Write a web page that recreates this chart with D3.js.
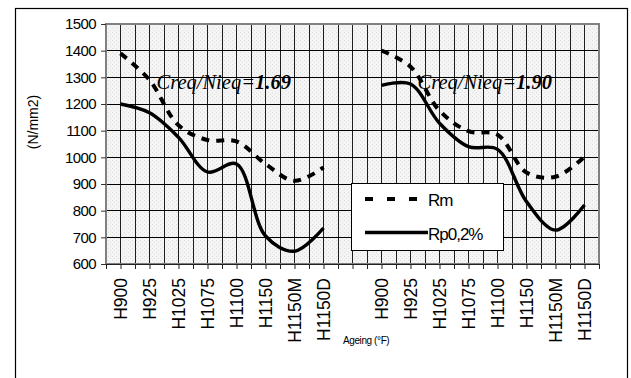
<!DOCTYPE html>
<html>
<head>
<meta charset="utf-8">
<script src="https://cdn.jsdelivr.net/npm/d3@7/dist/d3.min.js"></script>
<style>
  body { margin: 0; background: #fff; }
  text { font-family: "Liberation Sans", Arial, sans-serif; fill: #000; }
</style>
</head>
<body>
<svg id="chart" width="631" height="378"></svg>
<script>
// Ageing treatments, shown once for each Creq/Nieq ratio
const categories = ["H900", "H925", "H1025", "H1075", "H1100", "H1150", "H1150M", "H1150D"];
const ratios = ["1.69", "1.90"];

// Tensile strength Rm and yield strength Rp0,2% (N/mm2)
const rmLow  = [1390, 1290, 1120, 1065, 1060, 975, 912, 962];
const rpLow  = [1200, 1167, 1075, 945, 975, 705, 648, 735];
const rmHigh = [1400, 1340, 1175, 1098, 1085, 943, 927, 1002];
const rpHigh = [1270, 1275, 1128, 1040, 1030, 834, 727, 821];

const yTicks = [600, 700, 800, 900, 1000, 1100, 1200, 1300, 1400, 1500];
const seriesNames = ["Rm", "Rp0,2%"];

const svg = d3.select("#chart");
const plot = { left: 106, right: 599, top: 24, bottom: 264 };

// The category axis has 34 slots; each group takes every other slot with one empty gap between groups
const slotCount = 34;
const slotOf = (group, i) => 1 + group * (categories.length * 2 + 2) + i * 2;

const x = d3.scaleLinear().domain([0, slotCount]).range([plot.left, plot.right]);
const y = d3.scaleLinear().domain([600, 1500]).range([plot.bottom, plot.top]);

// Outer frame
svg.append("rect")
  .attr("x", 15.5).attr("y", 8.5).attr("width", 612).attr("height", 400)
  .attr("fill", "none").attr("stroke", "#000").attr("stroke-width", 1.2);

// Stippled plot background
const defs = svg.append("defs");
const pat = defs.append("pattern").attr("id", "stipple")
  .attr("width", 4).attr("height", 4).attr("patternUnits", "userSpaceOnUse");
pat.append("rect").attr("width", 4).attr("height", 4).attr("fill", "#f4f4f4");
pat.append("rect").attr("x", 0).attr("y", 0).attr("width", 1).attr("height", 1).attr("fill", "#dedede");
pat.append("rect").attr("x", 2).attr("y", 2).attr("width", 1).attr("height", 1).attr("fill", "#e4e4e4");

svg.append("rect")
  .attr("x", plot.left).attr("y", plot.top)
  .attr("width", plot.right - plot.left).attr("height", plot.bottom - plot.top)
  .attr("fill", "url(#stipple)");

// Grid
const grid = svg.append("g").attr("shape-rendering", "crispEdges");
grid.selectAll("line.v").data(d3.range(1, slotCount)).join("line")
  .attr("class", "v")
  .attr("x1", d => x(d)).attr("x2", d => x(d))
  .attr("y1", plot.top).attr("y2", plot.bottom)
  .attr("stroke", "#1e1e1e").attr("stroke-width", 1);
grid.selectAll("line.h").data(yTicks.slice(1, -1)).join("line")
  .attr("class", "h")
  .attr("x1", plot.left).attr("x2", plot.right)
  .attr("y1", d => y(d)).attr("y2", d => y(d))
  .attr("stroke", "#000").attr("stroke-width", 1);

// Plot area border
svg.append("rect")
  .attr("x", plot.left).attr("y", plot.top)
  .attr("width", plot.right - plot.left).attr("height", plot.bottom - plot.top)
  .attr("fill", "none").attr("stroke", "#808080").attr("stroke-width", 1.2)
  .attr("shape-rendering", "crispEdges");

// Y axis
const yAxis = svg.append("g")
  .attr("transform", `translate(${plot.left},0)`)
  .call(d3.axisLeft(y).tickValues(yTicks).tickSize(5).tickPadding(5).tickFormat(d3.format("d")));
yAxis.select(".domain").attr("stroke", "#808080");
yAxis.selectAll(".tick line").attr("stroke", "#333");
yAxis.selectAll(".tick text")
  .style("font-family", "'Liberation Sans', Arial, sans-serif")
  .style("font-size", "15px").style("letter-spacing", "-0.6px").attr("fill", "#000");

// X axis: a tick on every slot, labels on the category slots
const labelBySlot = new Map();
ratios.forEach((r, g) => categories.forEach((c, i) => labelBySlot.set(slotOf(g, i), c)));

const xAxis = svg.append("g")
  .attr("transform", `translate(0,${plot.bottom})`)
  .call(d3.axisBottom(x).tickValues(d3.range(0, slotCount + 1)).tickSize(5)
    .tickFormat(d => labelBySlot.get(d) || ""));
xAxis.select(".domain").attr("stroke", "#222");
xAxis.selectAll(".tick line").attr("stroke", "#222");
xAxis.selectAll(".tick text")
  .style("font-family", "'Liberation Sans', Arial, sans-serif")
  .style("font-size", "17.5px")
  .attr("text-anchor", "end")
  .attr("transform", "rotate(-90)")
  .attr("x", -14).attr("y", 0).attr("dy", "0.36em")
  .attr("fill", "#000");

// Axis titles
svg.append("text")
  .attr("transform", "translate(38,122) rotate(-90)")
  .attr("text-anchor", "middle")
  .style("font-size", "14px")
  .text("(N/mm2)");

svg.append("text")
  .attr("x", 343).attr("y", 344)
  .style("font-size", "10px").style("letter-spacing", "-0.4px")
  .text("Ageing (°F)");

// Curves
const line = d3.line()
  .x(d => x(d.slot))
  .y(d => y(d.v))
  .curve(d3.curveCatmullRom.alpha(0.5));

const groupsData = [
  { rm: rmLow, rp: rpLow },
  { rm: rmHigh, rp: rpHigh }
];

groupsData.forEach((gd, g) => {
  const rmPts = gd.rm.map((v, i) => ({ slot: slotOf(g, i), v }));
  const rpPts = gd.rp.map((v, i) => ({ slot: slotOf(g, i), v }));
  svg.append("path").datum(rpPts)
    .attr("d", line).attr("fill", "none")
    .attr("stroke", "#000").attr("stroke-width", 3.4)
    .attr("stroke-linejoin", "round");
  svg.append("path").datum(rmPts)
    .attr("d", line).attr("fill", "none")
    .attr("stroke", "#000").attr("stroke-width", 4)
    .attr("stroke-dasharray", "8,7");
});

// Ratio annotations
ratios.forEach((r, g) => {
  const t = svg.append("text")
    .attr("x", x(slotOf(g, 1)) + 7)
    .attr("y", 89)
    .style("font-family", "'Liberation Serif', 'Times New Roman', serif")
    .style("font-size", "20.5px")
    .style("font-style", "italic")
    .attr("fill", "#1a1a1a");
  t.append("tspan").text("Creq/Nieq=");
  t.append("tspan").style("font-weight", "bold").text(r);
});

// Legend
const lg = svg.append("g");
lg.append("rect")
  .attr("x", 351.5).attr("y", 183.5).attr("width", 152).attr("height", 67)
  .attr("fill", "#fff").attr("stroke", "#000").attr("stroke-width", 1);
lg.append("line")
  .attr("x1", 365).attr("x2", 418).attr("y1", 199).attr("y2", 199)
  .attr("stroke", "#000").attr("stroke-width", 4).attr("stroke-dasharray", "8,14");
lg.append("line")
  .attr("x1", 365).attr("x2", 428).attr("y1", 232.5).attr("y2", 232.5)
  .attr("stroke", "#000").attr("stroke-width", 3.4);
lg.selectAll("text").data(seriesNames).join("text")
  .attr("x", 428)
  .attr("y", (d, i) => i === 0 ? 206 : 240)
  .style("font-size", "17px").style("letter-spacing", "-1px")
  .text(d => d);
</script>
</body>
</html>
